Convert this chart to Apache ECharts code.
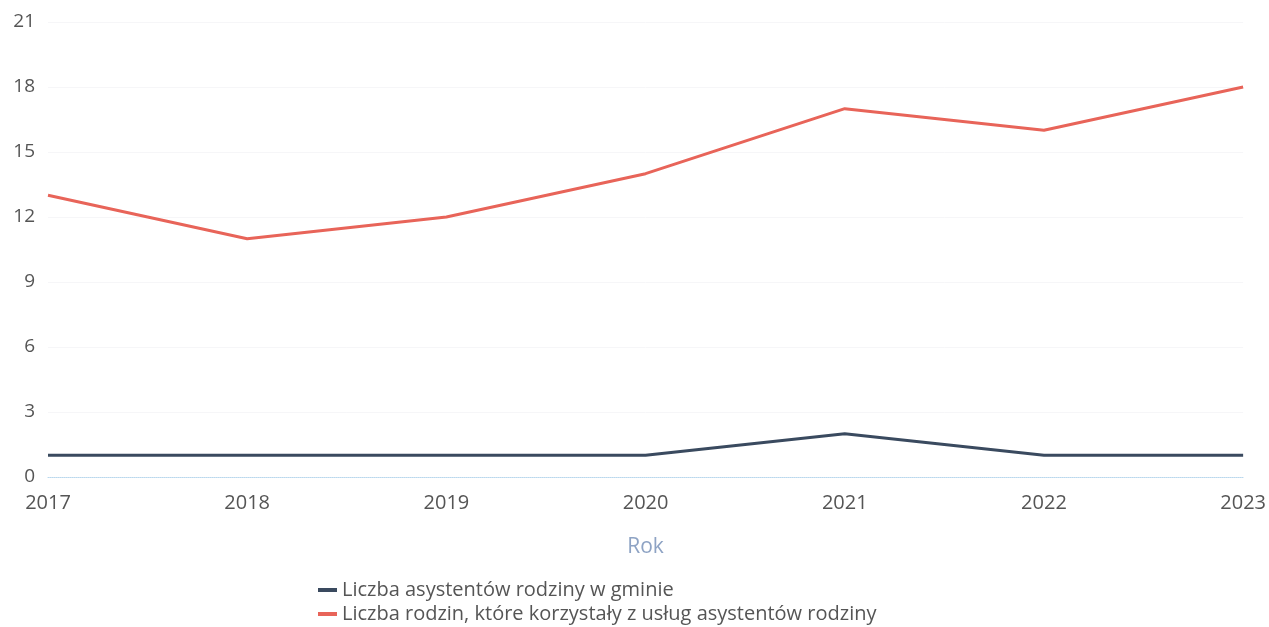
<!DOCTYPE html>
<html><head><meta charset="utf-8">
<script src="https://cdn.jsdelivr.net/npm/echarts@6/dist/echarts.min.js"></script>
<style>html,body{margin:0;padding:0;background:#fff}#c{width:1269px;height:627px}</style>
</head><body><div id="c"></div>
<script>
const years = ['2017','2018','2019','2020','2021','2022','2023'];
const assistants = [1,1,1,1,2,1,1];
const families = [13,11,12,14,17,16,18];
const yTicks = {min:0, max:21, interval:3};
const seriesNames = ['Liczba asystentów rodziny w gminie','Liczba rodzin, które korzystały z usług asystentów rodziny'];
const font = '"Open Sans", "Noto Sans", sans-serif';
const legendText = {color:'#555',fontSize:20,fontFamily:font};
const chart = echarts.init(document.getElementById('c'));
chart.setOption({
  animation:false,
  grid:{left:48,right:24,top:22,bottom:150},
  xAxis:{type:'category',data:years,boundaryGap:false,
    name:'Rok',nameLocation:'middle',nameGap:60,
    nameTextStyle:{color:'#8ea3c4',fontSize:21,fontFamily:font},
    axisLine:{show:true,lineStyle:{color:'#b8d8ee',type:'dotted',width:1}},
    axisTick:{show:false},
    axisLabel:{color:'#555',fontSize:20,fontFamily:font,margin:16},
    splitLine:{show:false}},
  yAxis:{type:'value',min:yTicks.min,max:yTicks.max,interval:yTicks.interval,
    axisLabel:{color:'#555',fontSize:19,fontFamily:font,margin:13},
    axisLine:{show:false},axisTick:{show:false},
    splitLine:{show:true,lineStyle:{color:'#f6f6f8',width:1}}},
  legend:[
    {data:[seriesNames[0]],left:313,top:575,itemWidth:19,itemHeight:4,itemGap:6,icon:'rect',textStyle:legendText},
    {data:[seriesNames[1]],left:313,top:599,itemWidth:19,itemHeight:4,itemGap:6,icon:'rect',textStyle:legendText}
  ],
  series:[
    {name:seriesNames[0],type:'line',data:assistants,symbol:'none',lineStyle:{color:'#3a4a5f',width:3},itemStyle:{color:'#3a4a5f'}},
    {name:seriesNames[1],type:'line',data:families,symbol:'none',lineStyle:{color:'#e86459',width:3},itemStyle:{color:'#e86459'}}
  ]
});
</script></body></html>
